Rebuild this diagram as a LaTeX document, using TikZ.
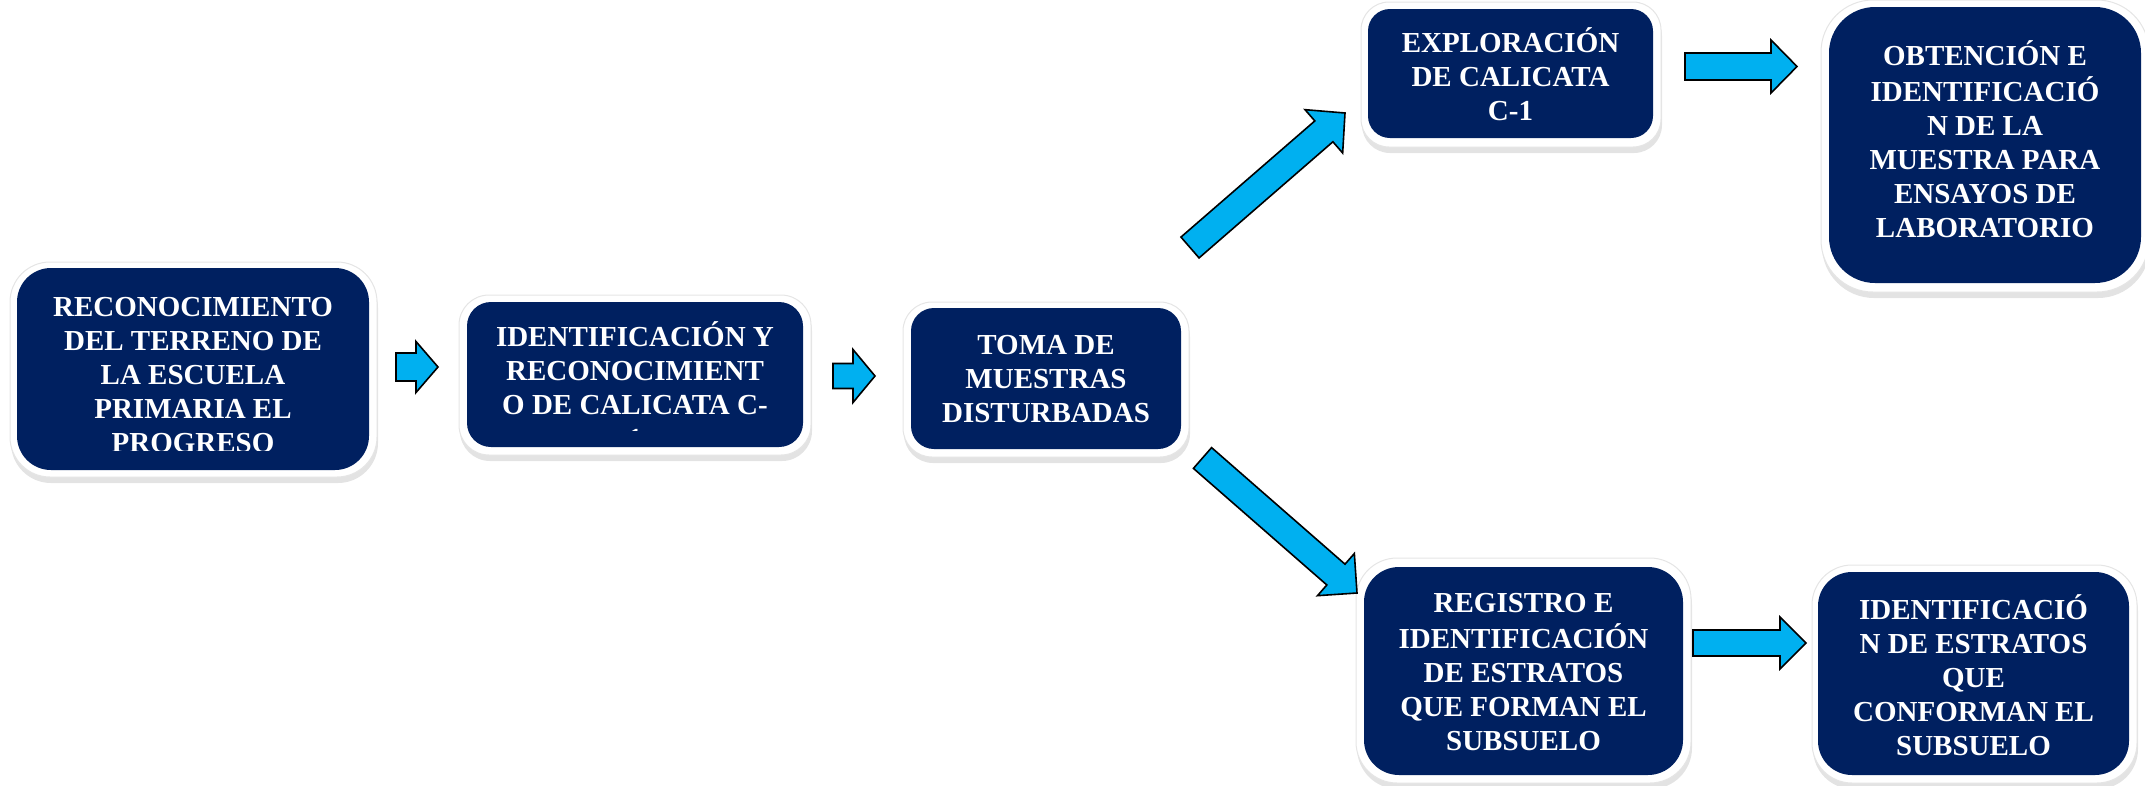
\documentclass[tikz,border=0pt]{standalone}
\usepackage{fontspec}
\setmainfont{Liberation Serif}
\usetikzlibrary{calc,shadows}
\definecolor{navy}{RGB}{0,32,96}
\definecolor{cyanb}{RGB}{0,176,240}
\tikzset{
  boxframe/.style={fill=white, draw=gray!20, line width=1pt, inner sep=0pt, outer sep=0pt,
    drop shadow={shadow xshift=1pt, shadow yshift=-6pt, opacity=0.22, fill=gray}},
  boxdark/.style={fill=navy, draw=none, inner sep=0pt, outer sep=0pt},
  lbl/.style={text=white, font=\fontsize{29}{34}\selectfont\bfseries, align=center, inner sep=0pt},
  barrow/.style={fill=cyanb, draw=black, line width=1.6pt, line join=miter}
}
\newcommand\blockarrow[5]{%
  \coordinate (#1hb) at ($(#2)!#5!(#1)$);
  \path[barrow] ($(#1)!#3!90:(#2)$) -- ($(#1hb)!#3!90:(#2)$) -- ($(#1hb)!#4!90:(#2)$)
    -- (#2) -- ($(#1hb)!#4!-90:(#2)$) -- ($(#1hb)!#3!-90:(#2)$) -- ($(#1)!#3!-90:(#2)$) -- cycle;
}
\begin{document}
\begin{tikzpicture}[x=1pt,y=-1pt]
\useasboundingbox (0,0) rectangle (2145,785);
% frames
\node[boxframe, minimum width=367, minimum height=215, rounded corners=40] (f1) at (193.5,369.5) {};
\node[boxframe, minimum width=352, minimum height=160, rounded corners=30] (f2) at (635,375) {};
\node[boxframe, minimum width=286, minimum height=155, rounded corners=29] (f3) at (1046,379.5) {};
\node[boxframe, minimum width=300, minimum height=145, rounded corners=28] (f4) at (1511,74.5) {};
\node[boxframe, minimum width=328, minimum height=292, rounded corners=52] (f5) at (1985,146) {};
\node[boxframe, minimum width=335, minimum height=225, rounded corners=41] (f6) at (1523.5,670.5) {};
\node[boxframe, minimum width=325, minimum height=218, rounded corners=40] (f7) at (1974.5,674) {};
% dark boxes
\node[boxdark, minimum width=352, minimum height=202, rounded corners=34] (b1) at (193,369) {};
\node[boxdark, minimum width=336, minimum height=145, rounded corners=24] (b2) at (635,374.5) {};
\node[boxdark, minimum width=270, minimum height=141, rounded corners=23] (b3) at (1046,378.5) {};
\node[boxdark, minimum width=285, minimum height=129, rounded corners=22] (b4) at (1510.5,73.5) {};
\node[boxdark, minimum width=312, minimum height=276, rounded corners=46] (b5) at (1985,145) {};
\node[boxdark, minimum width=319, minimum height=208, rounded corners=35] (b6) at (1523.5,671) {};
\node[boxdark, minimum width=311, minimum height=203, rounded corners=34] (b7) at (1973.5,673.5) {};
% texts
\begin{scope}
\clip (0,0) rectangle (400,450);
\node[lbl] (t1) at (193,378) {\strut RECONOCIMIENTO\\DEL TERRENO DE\\LA ESCUELA\\PRIMARIA EL\\PROGRESO\strut};
\end{scope}
\begin{scope}
\clip (440,0) rectangle (830,430.5);
\node[lbl] (t2) at (635,390) {\strut IDENTIFICACIÓN Y\\RECONOCIMIENT\\O DE CALICATA C-\\1\strut};
\end{scope}
\node[lbl] (t3) at (1046,382) {\strut TOMA DE\\MUESTRAS\\DISTURBADAS\strut};
\node[lbl] (t4) at (1510.5,79) {\strut EXPLORACIÓN\\DE CALICATA\\C-1\strut};
\node[lbl] (t5) at (1985,144.5) {\strut OBTENCIÓN E\\IDENTIFICACIÓ\\N DE LA\\MUESTRA PARA\\ENSAYOS DE\\LABORATORIO\strut};
\node[lbl] (t6) at (1523.5,674.5) {\strut REGISTRO E\\IDENTIFICACIÓN\\DE ESTRATOS\\QUE FORMAN EL\\SUBSUELO\strut};
\node[lbl] (t7) at (1973.5,680.5) {\strut IDENTIFICACIÓ\\N DE ESTRATOS\\QUE\\CONFORMAN EL\\SUBSUELO\strut};
% arrow ends
\coordinate (a1s) at (396,367);   \coordinate (a1e) at (438,367);
\coordinate (a2s) at (833,376);   \coordinate (a2e) at (875,376);
\coordinate (a3s) at (1190,247.5); \coordinate (a3e) at (1345,113);
\coordinate (a4s) at (1202.5,458); \coordinate (a4e) at (1357,593);
\coordinate (a5s) at (1685,66.5); \coordinate (a5e) at (1797,66.5);
\coordinate (a6s) at (1693,643);  \coordinate (a6e) at (1806,643);
\blockarrow{a1s}{a1e}{14pt}{25.5pt}{22pt}
\blockarrow{a2s}{a2e}{12.5pt}{26.5pt}{22pt}
\blockarrow{a3s}{a3e}{13.8pt}{28.7pt}{28pt}
\blockarrow{a4s}{a4e}{13.8pt}{28pt}{28pt}
\blockarrow{a5s}{a5e}{13.5pt}{26.5pt}{26pt}
\blockarrow{a6s}{a6e}{13pt}{26pt}{26pt}
\end{tikzpicture}
\end{document}
